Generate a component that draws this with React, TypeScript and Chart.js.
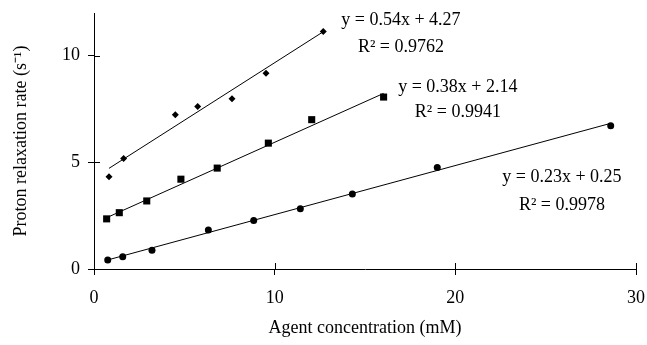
import React, { useEffect, useRef } from 'react';
import { Chart, registerables } from 'chart.js';

Chart.register(...registerables);

// Series (x: agent concentration in mM, y: relaxation rate in s^-1)
const diamondX = [0.83, 1.64, 4.5, 5.74, 7.64, 9.52, 12.69];
const diamondY = [4.33, 5.18, 7.23, 7.62, 7.98, 9.17, 11.13];
const squareX = [0.7, 1.4, 2.92, 4.81, 6.82, 9.65, 12.05, 16.03];
const squareY = [2.35, 2.64, 3.19, 4.21, 4.73, 5.9, 7.0, 8.06];
const circleX = [0.76, 1.59, 3.21, 6.33, 8.84, 11.42, 14.3, 19.0, 28.6];
const circleY = [0.42, 0.58, 0.88, 1.83, 2.27, 2.82, 3.51, 4.76, 6.71];

// Trendline equations shown on the chart
const slopes = [0.54, 0.38, 0.23];
const intercepts = [4.27, 2.14, 0.25];
const rSquared = ['0.9762', '0.9941', '0.9978'];

// Axis ticks
const xTicks = [0, 10, 20, 30];
const yTicks = [0, 5, 10];

const xTitle = 'Agent concentration (mM)';
const yTitle = 'Proton relaxation rate (s\u207B\u00B9)';

const FONT = '"Liberation Serif", "Times New Roman", serif';

// label anchors in data units (equation line, R² line)
const labelAnchors = [
  { x: 16.99, y1: 11.67, y2: 10.41 },
  { x: 20.14, y1: 8.53, y2: 7.36 },
  { x: 25.9, y1: 4.31, y2: 3.0 },
];

function pts(xs: number[], ys: number[]) {
  return xs.map((x, i) => ({ x, y: ys[i] }));
}

function trend(k: number, xs: number[]) {
  const lo = Math.min(...xs);
  const hi = Math.max(...xs);
  return [
    { x: lo, y: slopes[k] * lo + intercepts[k] },
    { x: hi, y: slopes[k] * hi + intercepts[k] },
  ];
}

const innerTicks = {
  id: 'innerTicks',
  afterDraw(chart: any) {
    const ctx = chart.ctx;
    const xs = chart.scales.x;
    const ys = chart.scales.y;
    ctx.save();
    ctx.strokeStyle = '#000';
    ctx.lineWidth = 1;
    ctx.beginPath();
    xs.ticks.forEach((t: any) => {
      const px = Math.round(xs.getPixelForValue(t.value)) + 0.5;
      ctx.moveTo(px, xs.top);
      ctx.lineTo(px, xs.top - 6);
    });
    ys.ticks.forEach((t: any) => {
      const py = Math.round(ys.getPixelForValue(t.value)) + 0.5;
      ctx.moveTo(ys.right, py);
      ctx.lineTo(ys.right + 6, py);
    });
    ctx.stroke();
    ctx.restore();
  },
};

const equations = {
  id: 'equations',
  afterDatasetsDraw(chart: any) {
    const ctx = chart.ctx;
    const xs = chart.scales.x;
    const ys = chart.scales.y;
    ctx.save();
    ctx.fillStyle = '#000';
    ctx.font = `18px ${FONT}`;
    ctx.textAlign = 'center';
    ctx.textBaseline = 'middle';
    labelAnchors.forEach((a, k) => {
      const px = xs.getPixelForValue(a.x);
      ctx.fillText(
        `y = ${slopes[k].toFixed(2)}x + ${intercepts[k].toFixed(2)}`,
        px,
        ys.getPixelForValue(a.y1)
      );
      ctx.fillText(`R\u00B2 = ${rSquared[k]}`, px, ys.getPixelForValue(a.y2));
    });
    ctx.restore();
  },
};

export default function App() {
  const ref = useRef<HTMLCanvasElement | null>(null);

  useEffect(() => {
    if (!ref.current) return;
    const lineStyle = {
      type: 'line' as const,
      showLine: true,
      borderColor: '#000',
      borderWidth: 1,
      pointRadius: 0,
      fill: false,
    };
    const chart = new Chart(ref.current, {
      type: 'scatter',
      data: {
        datasets: [
          { ...lineStyle, data: trend(0, diamondX), order: 2 },
          { ...lineStyle, data: trend(1, squareX), order: 2 },
          { ...lineStyle, data: trend(2, circleX), order: 2 },
          {
            data: pts(diamondX, diamondY),
            pointStyle: 'rectRot',
            pointRadius: 3.5,
            backgroundColor: '#000',
            borderColor: '#000',
            borderWidth: 0,
            order: 1,
          },
          {
            data: pts(squareX, squareY),
            pointStyle: 'rect',
            pointRadius: 5,
            backgroundColor: '#000',
            borderColor: '#000',
            borderWidth: 0,
            order: 1,
          },
          {
            data: pts(circleX, circleY),
            pointStyle: 'circle',
            pointRadius: 3.5,
            backgroundColor: '#000',
            borderColor: '#000',
            borderWidth: 0,
            order: 1,
          },
        ],
      },
      options: {
        animation: false,
        responsive: false,
        maintainAspectRatio: false,
        layout: { padding: { top: 13, right: 11, left: 0, bottom: 0 } },
        plugins: {
          legend: { display: false },
          tooltip: { enabled: false },
        },
        scales: {
          x: {
            type: 'linear',
            min: 0,
            max: 30,
            afterBuildTicks: (s: any) => {
              s.ticks = xTicks.map((v) => ({ value: v }));
            },
            afterFit: (s: any) => {
              s.height = 76;
              s.paddingLeft = 0;
              s.paddingRight = 0;
            },
            border: { display: true, color: '#000', width: 1 },
            grid: { display: true, drawOnChartArea: false, drawTicks: true, tickLength: 6, color: '#000' },
            ticks: {
              color: '#000',
              font: { family: FONT, size: 18 },
              padding: 12,
              maxRotation: 0,
            },
            title: {
              display: true,
              text: xTitle,
              color: '#000',
              font: { family: FONT, size: 18 },
              padding: { top: 0, bottom: 6 },
            },
          },
          y: {
            type: 'linear',
            min: 0,
            max: 12,
            afterBuildTicks: (s: any) => {
              s.ticks = yTicks.map((v) => ({ value: v }));
            },
            afterFit: (s: any) => {
              s.width = 94;
              s.paddingTop = 0;
              s.paddingBottom = 0;
            },
            border: { display: true, color: '#000', width: 1 },
            grid: { display: true, drawOnChartArea: false, drawTicks: true, tickLength: 6, color: '#000' },
            ticks: {
              color: '#000',
              font: { family: FONT, size: 18 },
              padding: 8,
            },
            title: {
              display: true,
              text: yTitle,
              color: '#000',
              font: { family: FONT, size: 18 },
              padding: { top: 10, bottom: 0 },
            },
          },
        },
      },
      plugins: [innerTicks, equations],
    } as any);
    return () => chart.destroy();
  }, []);

  return (
    <div style={{ position: 'fixed', left: 0, top: 0, width: 647, height: 345, background: '#fff' }}>
      <canvas ref={ref} width={647} height={345} style={{ width: 647, height: 345, display: 'block' }} />
    </div>
  );
}
